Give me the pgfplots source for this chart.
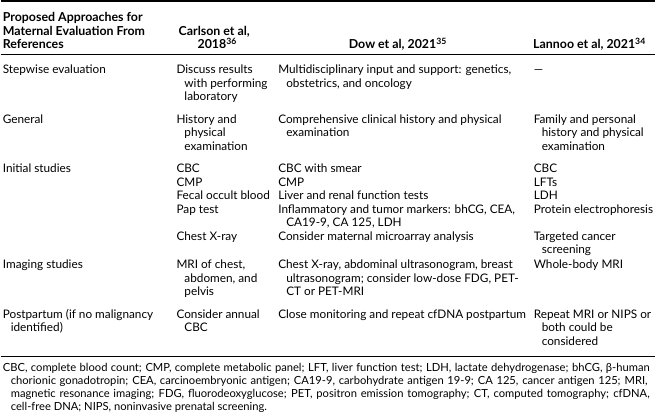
\documentclass[border=0pt]{standalone}
\usepackage{fontspec}
\setmainfont{Lato}
\usepackage{pgfplots}
\pgfplotsset{compat=1.18}
\newcommand\fs{\fontsize{11.8}{13}\selectfont}
\newcommand\ff{\fontsize{11.2}{13}\selectfont}
\newcommand\fb{\fontsize{12.4}{13}\selectfont\bfseries}
\newcommand\T[3]{\node[anchor=base west,inner sep=0pt,font=\fs] at (axis cs:#1,#2) {#3};}
\newcommand\B[3]{\node[anchor=base west,inner sep=0pt,font=\fb] at (axis cs:#1,#2) {#3};}
\newcommand\BC[3]{\node[anchor=base,inner sep=0pt,font=\fb] at (axis cs:#1,#2) {#3};}
\begin{document}
\begin{tikzpicture}
\begin{axis}[
  scale only axis, width=656pt, height=418pt,
  xmin=0, xmax=656, ymin=0, ymax=418, y dir=reverse,
  axis lines=none, clip=false, ticks=none]
\addplot[draw=none] coordinates {(0,0) (656,418)};
% rules
\draw[line width=1.3pt] (axis cs:0,1) -- (axis cs:656,1);
\draw[line width=0.9pt] (axis cs:0,55) -- (axis cs:656,55);
\draw[line width=0.9pt] (axis cs:0,357) -- (axis cs:656,357);
% header
\B{2}{22}{Proposed Approaches for}
\B{2}{35.5}{Maternal Evaluation From}
\B{2}{49}{References}
\BC{214}{35.5}{Carlson et al,}
\BC{217}{49}{2018\textsuperscript{36}}
\BC{398}{49}{Dow et al, 2021\textsuperscript{35}}
\BC{590}{49}{Lannoo et al, 2021\textsuperscript{34}}
% Stepwise
\T{2}{74}{Stepwise evaluation}
\T{176}{74}{Discuss results}
\T{184}{87.5}{with performing}
\T{184}{101}{laboratory}
\T{278}{74}{Multidisciplinary input and support: genetics,}
\T{286}{87.5}{obstetrics, and oncology}
\T{534}{74}{\textemdash}
% General
\T{2}{123.5}{General}
\T{176}{123.5}{History and}
\T{184}{137}{physical}
\T{184}{150.5}{examination}
\T{278}{123.5}{Comprehensive clinical history and physical}
\T{286}{137}{examination}
\T{534}{123.5}{Family and personal}
\T{542}{137}{history and physical}
\T{542}{150.5}{examination}
% Initial
\T{2}{173}{Initial studies}
\T{176}{173}{CBC}
\T{176}{186.5}{CMP}
\T{176}{200}{Fecal occult blood}
\T{176}{213.5}{Pap test}
\T{176}{240.5}{Chest X-ray}
\T{278}{173}{CBC with smear}
\T{278}{186.5}{CMP}
\T{278}{200}{Liver and renal function tests}
\T{278}{213.5}{Inflammatory and tumor markers: bhCG, CEA,}
\T{286}{227}{CA19-9, CA 125, LDH}
\T{278}{240.5}{Consider maternal microarray analysis}
\T{534}{173}{CBC}
\T{534}{186.5}{LFTs}
\T{534}{200}{LDH}
\T{534}{213.5}{Protein electrophoresis}
\T{534}{240.5}{Targeted cancer}
\T{542}{254}{screening}
% Imaging
\T{2}{269.5}{Imaging studies}
\T{176}{269.5}{MRI of chest,}
\T{184}{283}{abdomen, and}
\T{184}{296.5}{pelvis}
\T{278}{269.5}{Chest X-ray, abdominal ultrasonogram, breast}
\T{286}{283}{ultrasonogram; consider low-dose FDG, PET-}
\T{286}{296.5}{CT or PET-MRI}
\T{534}{269.5}{Whole-body MRI}
% Postpartum
\T{2}{319}{Postpartum (if no malignancy}
\T{10}{332.5}{identified)}
\T{176}{319}{Consider annual}
\T{184}{332.5}{CBC}
\T{278}{319}{Close monitoring and repeat cfDNA postpartum}
\T{534}{319}{Repeat MRI or NIPS or}
\T{542}{332.5}{both could be}
\T{542}{346}{considered}
% footnote
\node[anchor=base west,inner sep=0pt,font=\ff] at (axis cs:2,372) {\makebox[648pt][s]{CBC, complete blood count; CMP, complete metabolic panel; LFT, liver function test; LDH, lactate dehydrogenase; bhCG, β-human}};
\node[anchor=base west,inner sep=0pt,font=\ff] at (axis cs:10,385) {\makebox[638pt][s]{chorionic gonadotropin; CEA, carcinoembryonic antigen; CA19-9, carbohydrate antigen 19-9; CA 125, cancer antigen 125; MRI,}};
\node[anchor=base west,inner sep=0pt,font=\ff] at (axis cs:10,398) {\makebox[640pt][s]{magnetic resonance imaging; FDG, fluorodeoxyglucose; PET, positron emission tomography; CT, computed tomography; cfDNA,}};
\node[anchor=base west,inner sep=0pt,font=\ff] at (axis cs:10,411) {cell-free DNA; NIPS, noninvasive prenatal screening.};
\end{axis}
\end{tikzpicture}
\end{document}
